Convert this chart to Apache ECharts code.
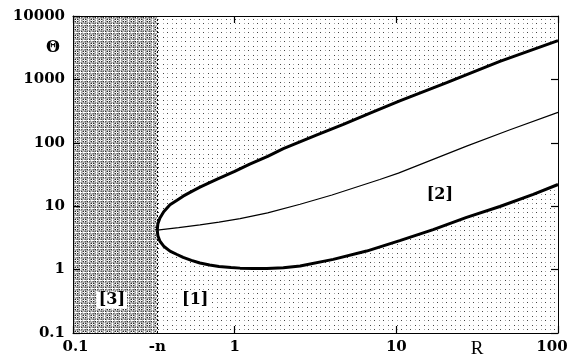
<!DOCTYPE html>
<html>
<head>
<meta charset="utf-8">
<script src="https://cdn.jsdelivr.net/npm/echarts@6/dist/echarts.min.js"></script>
<style>
  html, body { margin: 0; padding: 0; background: #fff; }
  #chart { width: 577px; height: 359px; }
</style>
</head>
<body>
<div id="chart"></div>
<script>
// Boundary value R = n (left edge of region [1])
const nValue = 0.332;

// Upper boundary curve
const upperR = [0.332, 0.335, 0.345, 0.364, 0.398, 0.44, 0.48, 0.54, 0.61, 0.70, 0.78, 1.0, 1.24, 1.6, 2.0, 3.2, 4.7, 7.0, 10.5, 20.5, 43.7, 100];
const upperTheta = [4.2, 5.3, 6.5, 8.2, 10.5, 12.4, 14.4, 17.0, 20, 23.6, 26.8, 35.3, 46, 61, 81, 132, 195, 298, 458, 888, 1930, 4100];

// Lower boundary curve
const lowerR = [0.332, 0.335, 0.345, 0.364, 0.398, 0.44, 0.48, 0.54, 0.61, 0.70, 0.8, 0.95, 1.08, 1.3, 1.58, 2.0, 2.54, 4.07, 6.55, 10.5, 16.9, 27.2, 43.7, 70.3, 100];
const lowerTheta = [4.2, 3.43, 2.8, 2.34, 1.96, 1.73, 1.56, 1.40, 1.27, 1.18, 1.12, 1.08, 1.055, 1.04, 1.04, 1.07, 1.14, 1.45, 1.96, 2.87, 4.27, 6.65, 9.9, 15.4, 22];

// Middle (thin) curve
const middleR = [0.332, 0.45, 0.61, 0.8, 1.08, 1.6, 2.54, 4.0, 7.9, 10.3, 27.2, 50, 100];
const middleTheta = [4.2, 4.6, 5.07, 5.6, 6.36, 7.86, 10.75, 15.0, 26.4, 33.2, 88.5, 159, 302];

// Axis ticks and labels
const xLabelValues = [0.1, nValue, 1, 10, 31.6, 100];
const xLabelTexts = ['0.1', '-n', '1', '10', 'R', '100'];
const yLabelValues = [0.1, 1, 10, 100, 1000, 10000];
const yLabelTexts = ['0.1', '1', '10', '100', '1000', '10000'];

// Region tags
const regionLabels = ['[3]', '[1]', '[2]'];
const regionR = [0.174, 0.57, 18.6];
const regionTheta = [0.33, 0.33, 14.9];

const FONT = '"DejaVu Serif", "Liberation Serif", serif';

// Build a repeating pixel tile for the stippled fills
function makeTile(rows, palette) {
  const c = document.createElement('canvas');
  c.width = rows[0].length;
  c.height = rows.length;
  const ctx = c.getContext('2d');
  rows.forEach((row, y) => {
    for (let x = 0; x < row.length; x++) {
      const col = palette[row[x]];
      if (col) { ctx.fillStyle = col; ctx.fillRect(x, y, 1, 1); }
    }
  });
  return c;
}

const darkTile = makeTile([
  'WWLWWWLW',
  'WDMLMDMK',
  'LMLMLMLM',
  'WLMKWKML',
  'WMLWLWLM',
  'WLMKWKML',
  'LMLMLMLM',
  'WKMLMDMD'
], { W: '#ffffff', L: '#c8c8c8', M: '#969696', D: '#626262', K: '#2e2e2e' });

const dotTile = makeTile([
  '.........',
  '.K...G...',
  '.........',
  '.........',
  '.........',
  '.G...K...',
  '.........',
  '.........',
  '.........'
], { '.': '#ffffff', K: '#444444', G: '#a8a8a8' });

function lookup(values, texts, v) {
  for (let i = 0; i < values.length; i++) {
    if (Math.abs(Math.log10(v) - Math.log10(values[i])) < 0.01) return texts[i];
  }
  return '';
}

const labelStyle = { color: '#000', fontFamily: FONT, fontWeight: 'bold', fontSize: 15 };

const chart = echarts.init(document.getElementById('chart'), null, { renderer: 'canvas' });

const tickStyle = { show: true, inside: true, length: 7, lineStyle: { color: '#000', width: 1.2 } };

const axisCommonX = {
  type: 'log', logBase: 10, min: 0.1, max: 100, z: 10,
  axisLine: { show: true, lineStyle: { color: '#000', width: 1 } },
  axisTick: tickStyle,
  splitLine: { show: false },
  minorTick: { show: false }
};
const axisCommonY = {
  type: 'log', logBase: 10, min: 0.1, max: 10000, z: 10,
  axisLine: { show: true, lineStyle: { color: '#000', width: 1 } },
  axisTick: tickStyle,
  splitLine: { show: false },
  minorTick: { show: false }
};

chart.setOption({
  animation: false,
  backgroundColor: '#fff',
  grid: { left: 73, right: 19, top: 16, bottom: 24, show: false, containLabel: false },
  xAxis: [
    Object.assign({}, axisCommonX, {
      position: 'bottom',
      axisLabel: Object.assign({}, labelStyle, {
        margin: 7,
        customValues: xLabelValues,
        formatter: v => {
          const t = lookup(xLabelValues, xLabelTexts, v);
          if (t === 'R') return '{r|R}';
          if (t === '100') return '{e|100}';
          if (t === '0.1') return '{s|0.1}';
          return t;
        },
        rich: {
          r: { fontFamily: '"Liberation Serif", serif', fontSize: 19, fontWeight: 'normal', color: '#000' },
          e: { fontFamily: FONT, fontSize: 15, fontWeight: 'bold', color: '#000', padding: [0, 12, 0, 0] },
          s: { fontFamily: FONT, fontSize: 15, fontWeight: 'bold', color: '#000', padding: [0, 0, 0, 5] }
        }
      })
    }),
    Object.assign({}, axisCommonX, {
      position: 'top',
      axisLabel: { show: false }
    })
  ],
  yAxis: [
    Object.assign({}, axisCommonY, {
      position: 'left',
      axisLabel: Object.assign({}, labelStyle, {
        margin: 8,
        customValues: yLabelValues,
        formatter: v => lookup(yLabelValues, yLabelTexts, v)
      })
    }),
    Object.assign({}, axisCommonY, {
      position: 'right',
      axisLabel: { show: false }
    })
  ],
  graphic: [{
    type: 'text', x: 53, y: 48, z: 20,
    style: { text: 'Θ', align: 'center', verticalAlign: 'middle', font: 'bold 16px ' + FONT, fill: '#000' }
  }],
  series: [
    {
      // stippled regions [3] and [1]
      type: 'line', data: [], silent: true, z: 0,
      markArea: {
        silent: true, z: 0,
        data: [
          [{ xAxis: 0.1, yAxis: 0.1, itemStyle: { color: { image: darkTile, repeat: 'repeat' } } }, { xAxis: nValue, yAxis: 10000 }],
          [{ xAxis: nValue, yAxis: 0.1, itemStyle: { color: { image: dotTile, repeat: 'repeat' } } }, { xAxis: 100, yAxis: 10000 }]
        ]
      },
      markLine: {
        silent: true, symbol: 'none', label: { show: false }, z: 2,
        lineStyle: { color: '#000', width: 1, type: [2, 2] },
        data: [{ xAxis: nValue }]
      }
    },
    {
      // clear region [2] between the boundary curves
      type: 'custom', coordinateSystem: 'cartesian2d', silent: true, z: 1,
      data: [[1, 1]],
      renderItem: (params, api) => {
        const pts = [];
        for (let i = 0; i < upperR.length; i++) pts.push(api.coord([upperR[i], upperTheta[i]]));
        for (let i = lowerR.length - 1; i >= 0; i--) pts.push(api.coord([lowerR[i], lowerTheta[i]]));
        return { type: 'polygon', shape: { points: pts }, style: { fill: '#fff' } };
      }
    },
    {
      type: 'line', z: 3, silent: true, symbol: 'none', smooth: false,
      data: upperR.map((r, i) => [r, upperTheta[i]]),
      lineStyle: { color: '#000', width: 3 }
    },
    {
      type: 'line', z: 3, silent: true, symbol: 'none', smooth: false,
      data: lowerR.map((r, i) => [r, lowerTheta[i]]),
      lineStyle: { color: '#000', width: 3 }
    },
    {
      type: 'line', z: 3, silent: true, symbol: 'none', smooth: false,
      data: middleR.map((r, i) => [r, middleTheta[i]]),
      lineStyle: { color: '#000', width: 1.2 }
    },
    {
      type: 'scatter', z: 4, silent: true, symbolSize: 1,
      itemStyle: { color: '#ffffff', opacity: 1 },
      data: regionR.map((r, i) => ({ value: [r, regionTheta[i]], name: regionLabels[i] })),
      label: {
        show: true, position: 'inside', formatter: p => p.name,
        color: '#000000', fontFamily: FONT, fontWeight: 'bold', fontSize: 16,
        backgroundColor: '#ffffff', padding: [1, 2, 0, 2]
      }
    }
  ]
});
</script>
</body>
</html>
